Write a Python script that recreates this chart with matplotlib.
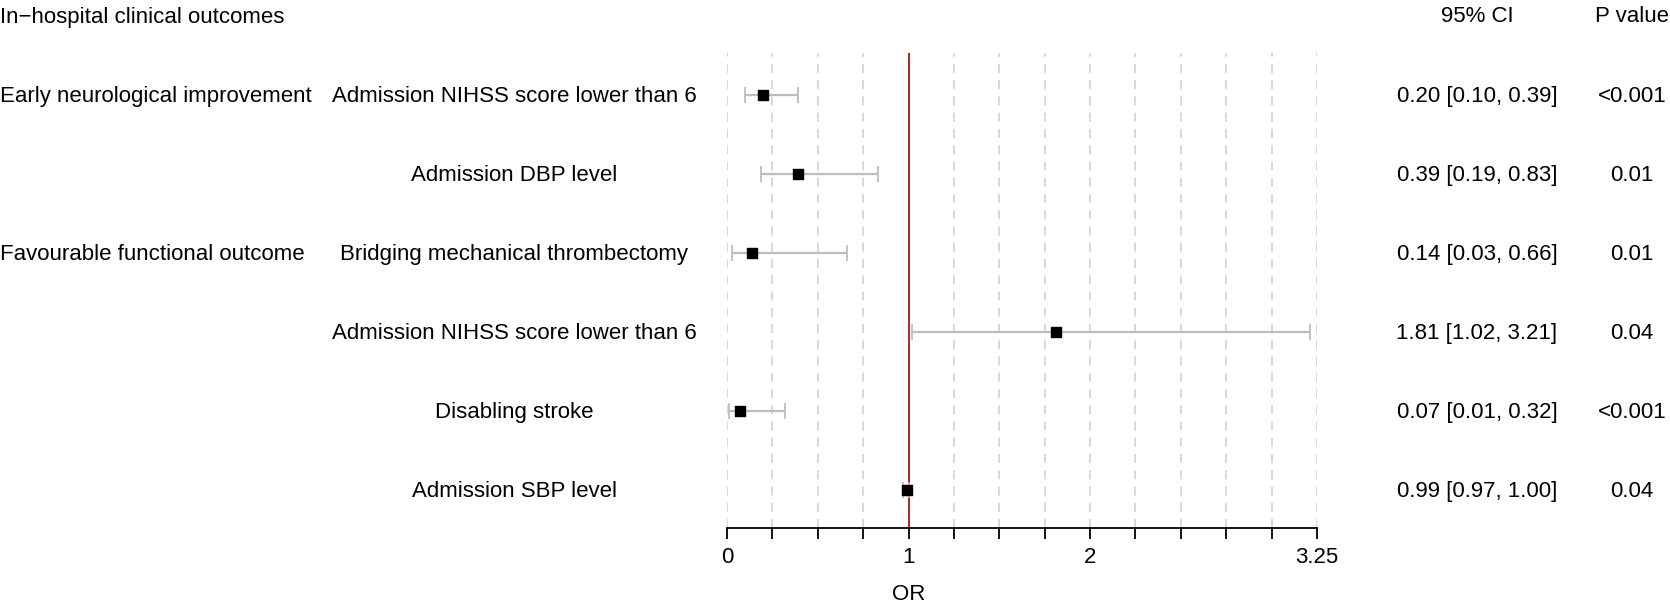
import matplotlib
matplotlib.use("Agg")
import matplotlib.pyplot as plt
import matplotlib.transforms as mtransforms
import numpy as np

plt.rcParams['font.family'] = ['Liberation Sans', 'DejaVu Sans']

outcomes = ["Early neurological improvement", "", "Favourable functional outcome", "", "", ""]
variables = ["Admission NIHSS score lower than 6", "Admission DBP level",
             "Bridging mechanical thrombectomy", "Admission NIHSS score lower than 6",
             "Disabling stroke", "Admission SBP level"]
or_vals = [0.20, 0.39, 0.14, 1.81, 0.07, 0.99]
ci_low = [0.10, 0.19, 0.03, 1.02, 0.01, 0.97]
ci_high = [0.39, 0.83, 0.66, 3.21, 0.32, 1.00]
ci_text = ["0.20 [0.10, 0.39]", "0.39 [0.19, 0.83]", "0.14 [0.03, 0.66]",
           "1.81 [1.02, 3.21]", "0.07 [0.01, 0.32]", "0.99 [0.97, 1.00]"]
p_text = ["<0.001", "0.01", "0.01", "0.04", "<0.001", "0.04"]
xticks = np.arange(0, 3.26, 0.25)
xtick_labels = {0: "0", 1: "1", 2: "2", 3.25: "3.25"}

W, H = 1670, 604
fig = plt.figure(figsize=(W / 100, H / 100), dpi=100)
x0, x1 = 727, 1317
ytop, ybot = 53, 528
ax = fig.add_axes([x0 / W, (H - ybot) / H, (x1 - x0) / W, (ybot - ytop) / H])

row0, rowstep = 95, 79.0
ax.set_ylim((ybot - row0) / rowstep, (ytop - row0) / rowstep)
ax.set_xlim(0, 3.25)

for xt in xticks:
    ax.axvline(xt, color='#d6d6d6', lw=1.3, ls=(0, (5, 4)), zorder=0)
ax.axvline(1, color='#b8202a', lw=1.4, zorder=1)

ys = np.arange(len(variables))
ax.errorbar(or_vals, ys, xerr=[np.array(or_vals) - np.array(ci_low),
                               np.array(ci_high) - np.array(or_vals)],
            fmt='none', ecolor='#bdbdbd', elinewidth=1.6, capsize=6, capthick=1.3, zorder=2)
ax.scatter(or_vals, ys, marker='s', s=45, color='black', zorder=3)

for s in ['top', 'right', 'left']:
    ax.spines[s].set_visible(False)
ax.spines['bottom'].set_linewidth(1.3)
ax.set_yticks([])
ax.set_xticks(xticks)
ax.set_xticklabels([xtick_labels.get(float(t), "") for t in xticks], fontsize=16)
ax.tick_params(axis='x', length=8, width=1.3, pad=6)

fs = 16
ax.text(1, (594 - row0) / rowstep, "OR", fontsize=fs, ha='center', va='center', clip_on=False)

tr = mtransforms.blended_transform_factory(fig.transFigure, ax.transData)
toff = 1.5 / rowstep
header_y = (17 - row0) / rowstep
ax.text(0 / W, header_y, "In\u2212hospital clinical outcomes", transform=tr, fontsize=fs,
        ha='left', va='center', clip_on=False)
ax.text(1477 / W, header_y, "95% CI", transform=tr, fontsize=fs, ha='center', va='center', clip_on=False)
ax.text(1632 / W, header_y, "P value", transform=tr, fontsize=fs, ha='center', va='center', clip_on=False)
for i in range(len(variables)):
    ty = i + toff
    if outcomes[i]:
        ax.text(0 / W, ty, outcomes[i], transform=tr, fontsize=fs, ha='left', va='center', clip_on=False)
    ax.text(514 / W, ty, variables[i], transform=tr, fontsize=fs, ha='center', va='center', clip_on=False)
    ax.text(1477 / W, ty, ci_text[i], transform=tr, fontsize=fs, ha='center', va='center', clip_on=False)
    ax.text(1632 / W, ty, p_text[i], transform=tr, fontsize=fs, ha='center', va='center', clip_on=False)

fig.savefig("out.png", dpi=100)
